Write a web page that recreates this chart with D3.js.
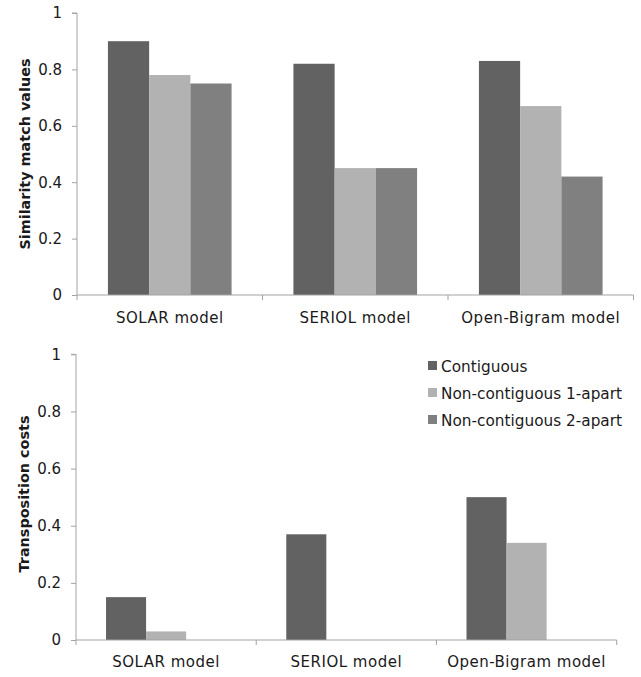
<!DOCTYPE html>
<html><head><meta charset="utf-8">
<script src="https://cdn.jsdelivr.net/npm/d3@7"></script>
<style>body{margin:0;background:#fff}svg{display:block}text{font-family:"DejaVu Sans",sans-serif;fill:#1a1a1a}</style>
</head><body><svg id="c" width="641" height="677"></svg>
<script>
const categories = ["SOLAR model", "SERIOL model", "Open-Bigram model"];
const seriesNames = ["Contiguous", "Non-contiguous 1-apart", "Non-contiguous 2-apart"];
const similarity = [[0.90, 0.78, 0.75], [0.82, 0.45, 0.45], [0.83, 0.67, 0.42]];
const transposition = [[0.15, 0.03, 0], [0.37, 0, 0], [0.50, 0.34, 0]];
const yTicks = [0, 0.2, 0.4, 0.6, 0.8, 1];
const yTickLabels = ["0", "0.2", "0.4", "0.6", "0.8", "1"];
const colors = ["#626262", "#b2b2b2", "#808080"];

const svg = d3.select("#c");
const axisColor = "#a3a3a3";

function panel(cfg) {
  const g = svg.append("g");
  const x = d3.scaleBand().domain(categories).range([cfg.x0, cfg.x1]).paddingInner(0).paddingOuter(0);
  const inner = d3.scaleBand().domain(d3.range(seriesNames.length)).range([0, x.bandwidth()]).paddingOuter(0.75).paddingInner(0);
  const y = d3.scaleLinear().domain([0, 1]).range([cfg.y0, cfg.y1]);

  cfg.data.forEach((vals, ci) => {
    vals.forEach((v, si) => {
      if (v <= 0) return;
      g.append("rect")
        .attr("x", x(categories[ci]) + inner(si))
        .attr("width", inner.bandwidth())
        .attr("y", y(v))
        .attr("height", y(0) - y(v))
        .attr("fill", colors[si]);
    });
  });

  const ya = d3.axisLeft(y).tickValues(yTicks).tickFormat((d, i) => yTickLabels[i]).tickSize(5).tickPadding(10);
  const yg = g.append("g").attr("transform", `translate(${cfg.x0},0)`).call(ya);
  yg.select(".domain").attr("stroke", axisColor).attr("d", `M-5,${cfg.y1}H0V${cfg.y0}`);
  yg.selectAll(".tick line").attr("stroke", axisColor);
  yg.selectAll(".tick text").attr("font-size", 15).attr("fill", "#1a1a1a").attr("font-family", "DejaVu Sans");

  const xg = g.append("g").attr("transform", `translate(0,${cfg.y0})`);
  xg.append("line").attr("x1", cfg.x0).attr("x2", cfg.x1).attr("stroke", axisColor);
  const bounds = [cfg.x0].concat(categories.map(c => x(c) + x.bandwidth()));
  xg.selectAll(".bt").data(bounds).enter().append("line")
    .attr("x1", d => d).attr("x2", d => d).attr("y1", 0).attr("y2", 5).attr("stroke", axisColor);
  xg.selectAll(".cl").data(categories).enter().append("text")
    .attr("x", d => x(d) + x.bandwidth() / 2)
    .attr("y", cfg.labelDy)
    .attr("text-anchor", "middle")
    .attr("font-size", 15)
    .attr("letter-spacing", "0.5px")
    .text(d => d);

  g.append("text")
    .attr("transform", `translate(${cfg.titleX},${cfg.titleY}) rotate(-90)`)
    .attr("text-anchor", "middle")
    .attr("font-size", 14.4)
    .attr("font-weight", "bold")
    .attr("fill", "#000")
    .text(cfg.title);
  return {x, y};
}

panel({x0: 77, x1: 633.5, y0: 295, y1: 13, data: similarity, title: "Similarity match values", titleX: 30, titleY: 154, labelDy: 28});
panel({x0: 76, x1: 616.7, y0: 640, y1: 354.3, data: transposition, title: "Transposition costs", titleX: 29, titleY: 494, labelDy: 27});

const leg = svg.append("g").attr("transform", "translate(428,366)");
seriesNames.forEach((n, i) => {
  const r = leg.append("g").attr("transform", `translate(0,${i * 27})`);
  r.append("rect").attr("x", 0).attr("y", -5).attr("width", 9).attr("height", 9).attr("fill", colors[i]);
  r.append("text").attr("x", 13).attr("y", 5.5).attr("font-size", 15.3).text(n);
});
</script></body></html>
